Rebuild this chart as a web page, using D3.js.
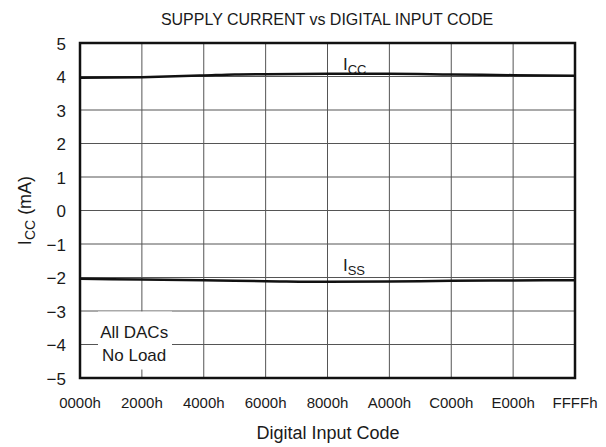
<!DOCTYPE html>
<html>
<head>
<meta charset="utf-8">
<script src="https://cdn.jsdelivr.net/npm/d3@7"></script>
<style>
body { margin: 0; background: #fff; }
text { font-family: "Liberation Sans", Arial, sans-serif; fill: #1a1a1a; }
</style>
</head>
<body>
<script>
const w = 606;
const h = 447;
const margin = { top: 43, bottom: 69, left: 80, right: 31 };

const codes = [0x0000, 0x2000, 0x4000, 0x5000, 0x6000, 0x8000, 0xA000, 0xC000, 0xE000, 0xFFFF];
const icc = [3.96, 3.98, 4.03, 4.06, 4.07, 4.08, 4.08, 4.06, 4.04, 4.02];
const iss = [-2.04, -2.06, -2.08, -2.1, -2.11, -2.13, -2.12, -2.1, -2.09, -2.08];
const xTicks = [0x0000, 0x2000, 0x4000, 0x6000, 0x8000, 0xA000, 0xC000, 0xE000, 0x10000];
const xTickLabels = ['0000h', '2000h', '4000h', '6000h', '8000h', 'A000h', 'C000h', 'E000h', 'FFFFh'];
const yTicks = [-5, -4, -3, -2, -1, 0, 1, 2, 3, 4, 5];

const svg = d3.select('body').append('svg').attr('width', w).attr('height', h);

const x = d3.scaleLinear().domain([0, 0x10000]).range([margin.left, w - margin.right]);
const y = d3.scaleLinear().domain([-5, 5]).range([h - margin.bottom, margin.top]);

// grid
svg.append('g').selectAll('line').data(xTicks).enter().append('line')
	.attr('x1', d => x(d)).attr('x2', d => x(d))
	.attr('y1', y(-5)).attr('y2', y(5))
	.attr('stroke', '#555').attr('stroke-width', 1);
svg.append('g').selectAll('line').data(yTicks).enter().append('line')
	.attr('x1', x(0)).attr('x2', x(0x10000))
	.attr('y1', d => y(d)).attr('y2', d => y(d))
	.attr('stroke', '#555').attr('stroke-width', 1);

// note box
svg.append('rect').attr('x', 98).attr('y', y(-3.0) + 0.5).attr('width', 74).attr('height', 58).attr('fill', '#fff');
svg.append('text').attr('x', x(0x1C00)).attr('y', y(-3.8)).attr('text-anchor', 'middle').style('font-size', '17px').text('All DACs');
svg.append('text').attr('x', x(0x1C00)).attr('y', y(-4.5)).attr('text-anchor', 'middle').style('font-size', '17px').text('No Load');

const line = d3.line().x((d, i) => x(codes[i])).y(d => y(d)).curve(d3.curveMonotoneX);
svg.append('path').datum(icc).attr('d', line).attr('fill', 'none').attr('stroke', '#111').attr('stroke-width', 2.5);
svg.append('path').datum(iss).attr('d', line).attr('fill', 'none').attr('stroke', '#111').attr('stroke-width', 2.5);

// frame
svg.append('rect').attr('x', x(0)).attr('y', y(5)).attr('width', x(0x10000) - x(0)).attr('height', y(-5) - y(5))
	.attr('fill', 'none').attr('stroke', '#111').attr('stroke-width', 2.5);

// curve labels
const lab1 = svg.append('text').attr('x', x(0x8800)).attr('y', y(4.2)).style('font-size', '17px');
lab1.append('tspan').text('I');
lab1.append('tspan').attr('dy', 4).style('font-size', '13px').text('CC');
const lab2 = svg.append('text').attr('x', x(0x8800)).attr('y', y(-1.8)).style('font-size', '17px');
lab2.append('tspan').text('I');
lab2.append('tspan').attr('dy', 4).style('font-size', '13px').text('SS');

// y ticks
svg.append('g').selectAll('text').data(yTicks).enter().append('text')
	.attr('x', margin.left - 14).attr('y', d => y(d) + 6.5)
	.attr('text-anchor', 'end').style('font-size', '17px')
	.text(d => d < 0 ? '\u2212' + Math.abs(d) : d);

// x ticks
svg.append('g').selectAll('text').data(xTicks).enter().append('text')
	.attr('x', d => x(d)).attr('y', h - margin.bottom + 30)
	.attr('text-anchor', 'middle').style('font-size', '15px')
	.text((d, i) => xTickLabels[i]);

// titles
svg.append('text').attr('x', 327).attr('y', 25).attr('text-anchor', 'middle').style('font-size', '16px')
	.text('SUPPLY CURRENT vs DIGITAL INPUT CODE');
svg.append('text').attr('x', 328).attr('y', 439).attr('text-anchor', 'middle').style('font-size', '18px')
	.text('Digital Input Code');
const yl = svg.append('text').attr('transform', 'translate(31,' + y(0) + ') rotate(-90)')
	.attr('text-anchor', 'middle').style('font-size', '18px');
yl.append('tspan').text('I');
yl.append('tspan').attr('dy', 4).style('font-size', '14px').text('CC');
yl.append('tspan').attr('dy', -4).text(' (mA)');
</script>
</body>
</html>
